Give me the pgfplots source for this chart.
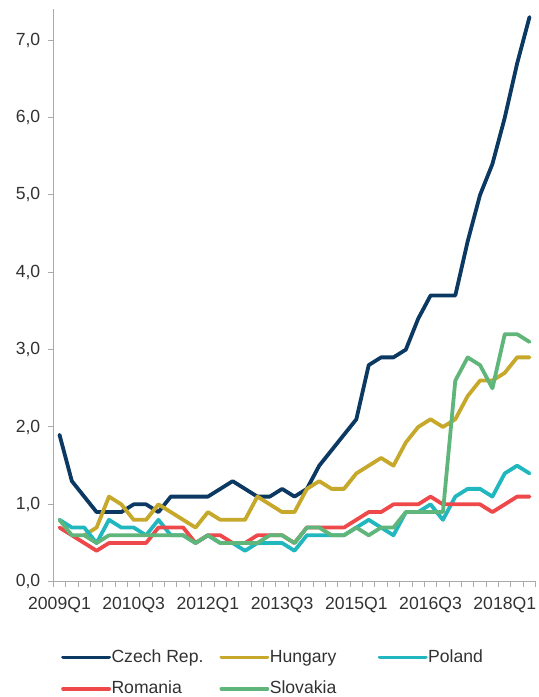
\documentclass[border=0pt]{standalone}
\usepackage{pgfplots}
\pgfplotsset{compat=1.18}
\usepackage{fontspec}
\setmainfont{Liberation Sans}

\definecolor{czech}{RGB}{11,57,98}
\definecolor{hungary}{RGB}{198,168,42}
\definecolor{poland}{RGB}{33,183,190}
\definecolor{romania}{RGB}{238,72,74}
\definecolor{slovakia}{RGB}{96,182,122}
\definecolor{axisgray}{RGB}{170,170,170}
\definecolor{labelgray}{RGB}{50,50,50}

\pgfplotstableread{
q   cz   hu   pl   ro   sk
0   1.9  nan  0.8  0.7  0.8
1   1.3  nan  0.7  0.6  0.6
2   1.1  0.6  0.7  0.5  0.6
3   0.9  0.7  0.5  0.4  0.5
4   0.9  1.1  0.8  0.5  0.6
5   0.9  1.0  0.7  0.5  0.6
6   1.0  0.8  0.7  0.5  0.6
7   1.0  0.8  0.6  0.5  0.6
8   0.9  1.0  0.8  0.7  0.6
9   1.1  0.9  0.6  0.7  0.6
10  1.1  0.8  0.6  0.7  0.6
11  1.1  0.7  0.5  0.5  0.5
12  1.1  0.9  0.6  0.6  0.6
13  1.2  0.8  0.5  0.6  0.5
14  1.3  0.8  0.5  0.5  0.5
15  1.2  0.8  0.4  0.5  0.5
16  1.1  1.1  0.5  0.6  0.5
17  1.1  1.0  0.5  0.6  0.6
18  1.2  0.9  0.5  0.6  0.6
19  1.1  0.9  0.4  0.5  0.5
20  1.2  1.2  0.6  0.7  0.7
21  1.5  1.3  0.6  0.7  0.7
22  1.7  1.2  0.6  0.7  0.6
23  1.9  1.2  0.6  0.7  0.6
24  2.1  1.4  0.7  0.8  0.7
25  2.8  1.5  0.8  0.9  0.6
26  2.9  1.6  0.7  0.9  0.7
27  2.9  1.5  0.6  1.0  0.7
28  3.0  1.8  0.9  1.0  0.9
29  3.4  2.0  0.9  1.0  0.9
30  3.7  2.1  1.0  1.1  0.9
31  3.7  2.0  0.8  1.0  0.9
32  3.7  2.1  1.1  1.0  2.6
33  4.4  2.4  1.2  1.0  2.9
34  5.0  2.6  1.2  1.0  2.8
35  5.4  2.6  1.1  0.9  2.5
36  6.0  2.7  1.4  1.0  3.2
37  6.7  2.9  1.5  1.1  3.2
38  7.3  2.9  1.4  1.1  3.1
}\datatable

\begin{document}
\fontsize{17.6bp}{21bp}\selectfont
\begin{tikzpicture}
\useasboundingbox (-53.3bp,-115.3bp) rectangle (485.7bp,581.7bp);
\begin{axis}[
  at={(0,0)}, anchor=south west,
  scale only axis,
  width=482.4bp, height=572.4bp,
  xmin=-0.5, xmax=38.5,
  ymin=0, ymax=7.4,
  axis x line*=bottom, axis y line*=left,
  axis line style={draw=axisgray, line width=1.2bp, -},
  xtick={0,6,...,36},
  xticklabels={2009Q1,2010Q3,2012Q1,2013Q3,2015Q1,2016Q3,2018Q1},
  minor xtick={-0.5,0.5,...,38.5},
  ytick={0,1,...,7},
  tick align=outside,
  major tick length=5bp, minor tick length=5bp,
  major x tick style={draw=none},
  minor x tick style={draw=axisgray, line width=1bp},
  major y tick style={draw=axisgray, line width=1bp},
  tick label style={font=\fontsize{17.6bp}{21bp}\selectfont, text=labelgray},
  xticklabel style={yshift=-4bp},
  yticklabel style={xshift=-2bp},
  /pgf/number format/assume math mode=true,
  yticklabel={\pgfmathprintnumber[fixed,fixed zerofill,precision=1,use comma]{\tick}},
  legend columns=3,
  legend cell align=left,
  legend style={draw=none, fill=none,
    at={(axis description cs:0.0098,-0.1150)}, anchor=north west,
    font=\fontsize{17.6bp}{21bp}\selectfont, text=labelgray,
    nodes={inner xsep=0.5bp, inner ysep=0pt},
    row sep=16bp,
    /tikz/every even column/.append style={column sep=7.5bp}},
  legend image code/.code={\draw[#1, line width=3.8bp, line cap=round] (0bp,0bp) -- (46bp,0bp);},
  every axis plot/.append style={line width=3.8bp, line join=round, line cap=round, unbounded coords=jump},
]
\addplot[czech] table[x=q, y=cz] {\datatable};
\addplot[hungary] table[x=q, y=hu] {\datatable};
\addplot[poland] table[x=q, y=pl] {\datatable};
\addplot[romania] table[x=q, y=ro] {\datatable};
\addplot[slovakia] table[x=q, y=sk] {\datatable};
\legend{\makebox[100bp][l]{Czech Rep.},\makebox[100bp][l]{Hungary},\makebox[100bp][l]{Poland},\makebox[100bp][l]{Romania},\makebox[100bp][l]{Slovakia}}
\end{axis}
\end{tikzpicture}
\end{document}
